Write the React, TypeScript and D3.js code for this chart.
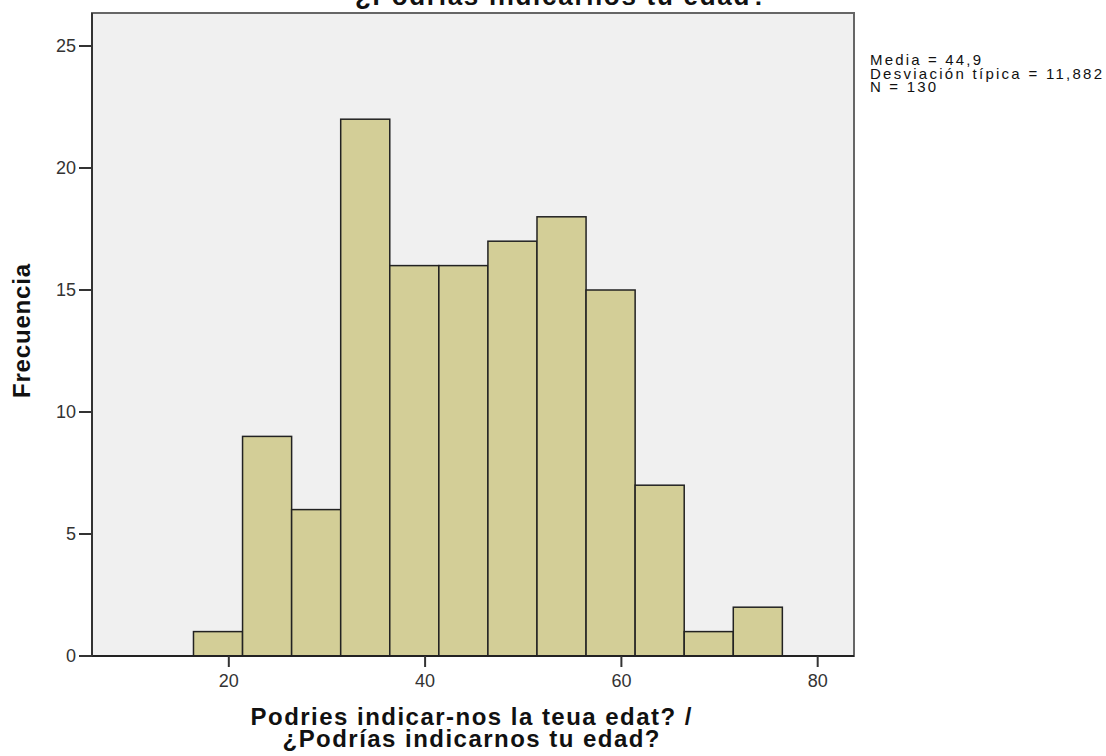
import React from "react";
import * as d3 from "d3";

const binStart = 16.4;
const binWidth = 5;
const counts = [1, 9, 6, 22, 16, 16, 17, 18, 15, 7, 1, 2];
const xTicks = [20, 40, 60, 80];
const yTicks = [0, 5, 10, 15, 20, 25];
const statsLines = ["Media = 44,9", "Desviación típica = 11,882", "N = 130"];
const statsWidths = [111, 232, 66];
const titleText = "¿Podrías indicarnos tu edad?";
const xTitleLines = ["Podries indicar-nos la teua edat? /", "¿Podrías indicarnos tu edad?"];
const xTitleWidths = [441, 377];
const yTitle = "Frecuencia";

const W = 1106;
const H = 756;
const left = 92;
const right = 854;
const top = 13;
const bottom = 656;

export default function App() {
  const x = d3.scaleLinear().domain([6.06, 83.7]).range([left, right]);
  const y = d3.scaleLinear().domain([0, 25]).range([bottom, 46]);
  const font = "'Liberation Sans', Arial, sans-serif";
  return (
    <svg width={W} height={H} style={{ position: "absolute", left: 0, top: 0, background: "#fff" }}>
      <rect x={left} y={top} width={right - left} height={bottom - top} fill="#f0f0f0" stroke="#666" strokeWidth={2} />
      {counts.map((c, i) => {
        const x0 = x(binStart + i * binWidth);
        const x1 = x(binStart + (i + 1) * binWidth);
        return (
          <rect key={i} x={x0} y={y(c)} width={x1 - x0} height={y(0) - y(c)} fill="#d3ce97" stroke="#222" strokeWidth={1.5} />
        );
      })}
      <line x1={left} x2={right} y1={bottom} y2={bottom} stroke="#222" strokeWidth={2} />
      <line x1={left} x2={left} y1={top} y2={bottom} stroke="#333" strokeWidth={2} />
      {yTicks.map((t) => (
        <g key={t}>
          <line x1={left - 13} x2={left} y1={y(t)} y2={y(t)} stroke="#333" strokeWidth={2} />
          <text x={76} y={y(t)} dy="0.35em" textAnchor="end" fontFamily={font} fontSize={18} fill="#333">{t}</text>
        </g>
      ))}
      {xTicks.map((t) => (
        <g key={t}>
          <line x1={x(t)} x2={x(t)} y1={bottom} y2={bottom + 11} stroke="#333" strokeWidth={2} />
          <text x={x(t)} y={687} textAnchor="middle" fontFamily={font} fontSize={18} fill="#333">{t}</text>
        </g>
      ))}
      <text x={561} y={5} textAnchor="middle" fontFamily={font} fontSize={26} fontWeight="bold" fill="#111" textLength={412}>{titleText}</text>
      {xTitleLines.map((l, i) => (
        <text key={i} x={471} y={725 + i * 22} textAnchor="middle" fontFamily={font} fontSize={24} fontWeight="bold" fill="#111" textLength={xTitleWidths[i]}>{l}</text>
      ))}
      <text transform={`translate(30,331) rotate(-90)`} textAnchor="middle" fontFamily={font} fontSize={24} fontWeight="bold" fill="#111" textLength={134}>{yTitle}</text>
      {statsLines.map((l, i) => (
        <text key={i} x={870} y={65 + i * 13.5} fontFamily={font} fontSize={15} fill="#111" textLength={statsWidths[i]}>{l}</text>
      ))}
    </svg>
  );
}
